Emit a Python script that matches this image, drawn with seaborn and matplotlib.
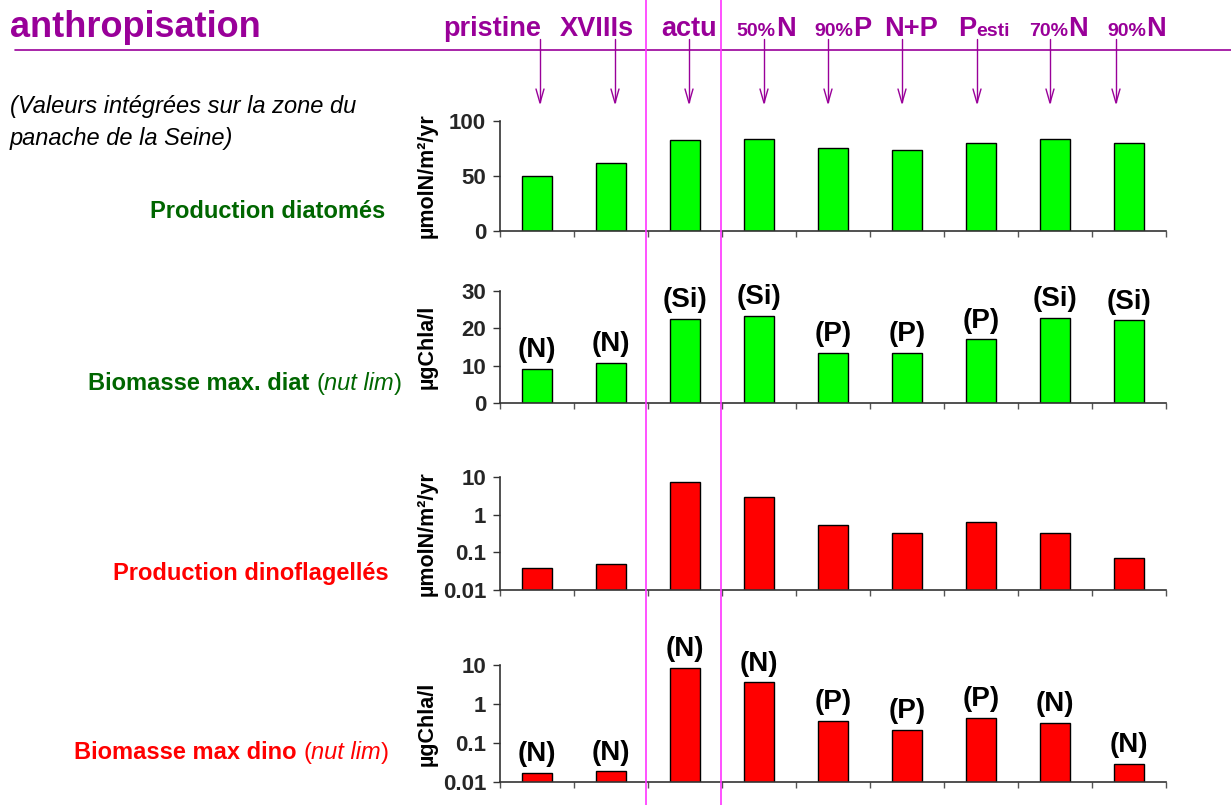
import seaborn as sns
import matplotlib.pyplot as plt
from matplotlib.ticker import FixedLocator, NullLocator, NullFormatter

# data
scenarios = ["pristine", "XVIIIs", "actu", "50%N", "90%P", "N+P", "Pesti", "70%N", "90%N"]
prod_diat = [50, 62, 83, 84, 75, 74, 80, 84, 80]
biom_diat = [9.1, 10.7, 22.5, 23.3, 13.4, 13.4, 17.1, 22.8, 22.2]
lim_diat = ["(N)", "(N)", "(Si)", "(Si)", "(P)", "(P)", "(P)", "(Si)", "(Si)"]
prod_dino = [0.039, 0.05, 7.3, 2.9, 0.53, 0.32, 0.63, 0.32, 0.071]
biom_dino = [0.017, 0.019, 8.4, 3.6, 0.37, 0.22, 0.44, 0.33, 0.029]
lim_dino = ["(N)", "(N)", "(N)", "(N)", "(P)", "(P)", "(P)", "(N)", "(N)"]

# header pieces: (big text, small text, small first?)
header = [("pristine", "", 0), ("XVIIIs", "", 0), ("actu", "", 0),
          ("N", "50%", 1), ("P", "90%", 1), ("N+P", "", 0), ("P", "esti", 0),
          ("N", "70%", 1), ("N", "90%", 1)]
header_x = [492, 597, 689, 766, 843, 911, 984, 1059, 1137]
arrow_x = [540, 615, 689, 764, 828, 902, 977, 1050, 1116]

PURPLE = "#990099"
MAGENTA = "#FF33FF"
DKGREEN = "#006600"
W, H = 1231, 805

sns.set_theme(style="white")
plt.rcParams["font.family"] = ["Liberation Sans", "DejaVu Sans"]

fig = plt.figure(figsize=(W / 100, H / 100), dpi=100)


def fx(px):
    return px / W


def fy(py):
    return 1 - py / H


def panel(top, bottom, vals, color, log=False, labels=None, ylabel=""):
    ax = fig.add_axes([fx(500), fy(bottom), fx(666), (bottom - top) / H])
    sns.barplot(x=scenarios, y=vals, ax=ax, color=color, saturation=1,
                edgecolor="black", linewidth=1.0, width=0.41)
    ax.set_xlim(-0.5, len(scenarios) - 0.5)
    if log:
        ax.set_yscale("log")
        ax.set_ylim(0.01, 10)
        ax.yaxis.set_major_locator(FixedLocator([0.01, 0.1, 1, 10]))
        ax.set_yticklabels(["0.01", "0.1", "1", "10"])
        ax.yaxis.set_minor_locator(NullLocator())
        ax.yaxis.set_minor_formatter(NullFormatter())
    ax.tick_params(axis="y", which="major", direction="out", length=5, width=1,
                   color="#333333", labelsize=16, pad=5, left=True)
    ax.set_xticks([])
    ax.set_xticks([i - 0.5 for i in range(len(scenarios) + 1)], minor=True)
    ax.tick_params(axis="x", which="minor", direction="out", length=4, width=1,
                   color="#555555", bottom=True)
    ax.set_xlabel("")
    ax.set_ylabel(ylabel, fontsize=15.5, fontweight="bold", color="black")
    ax.yaxis.set_label_coords(-0.093, 0.5)
    for s in ["top", "right"]:
        ax.spines[s].set_visible(False)
    for s in ["left", "bottom"]:
        ax.spines[s].set_color("#333333")
        ax.spines[s].set_linewidth(1.2)
    ax.patch.set_alpha(0)
    if labels:
        for i, (v, lab) in enumerate(zip(vals, labels)):
            ax.annotate(lab, (i, v), xytext=(0, 4), textcoords="offset points",
                        ha="center", va="bottom", fontsize=20, fontweight="bold",
                        color="black", annotation_clip=False)
    return ax


ax1 = panel(121, 231, prod_diat, "#00FF00", ylabel="µmolN/m²/yr")
ax1.set_ylim(0, 100)
ax1.set_yticks([0, 50, 100])
ax1.set_yticklabels(["0", "50", "100"])

ax2 = panel(291, 403, biom_diat, "#00FF00", labels=lim_diat, ylabel="µgChla/l")
ax2.set_ylim(0, 30)
ax2.set_yticks([0, 10, 20, 30])
ax2.set_yticklabels(["0", "10", "20", "30"])

ax3 = panel(477, 590, prod_dino, "#FF0000", log=True, ylabel="µmolN/m²/yr")
ax4 = panel(665, 782, biom_dino, "#FF0000", log=True, labels=lim_dino,
            ylabel="µgChla/l")
for ax in (ax1, ax2, ax3, ax4):
    for lab in ax.get_yticklabels():
        lab.set_fontweight("bold")

renderer = fig.canvas.get_renderer()


def chain(pieces, x, y, ha="left"):
    # place text pieces side by side on one baseline
    texts = []
    cur = x
    for s, kw in pieces:
        t = fig.text(cur, y, s, va="baseline", ha="left", **kw)
        bb = t.get_window_extent(renderer)
        cur = fig.transFigure.inverted().transform((bb.x1, bb.y0))[0]
        texts.append(t)
    width = cur - x
    shift = {"left": 0, "center": width / 2, "right": width}[ha]
    for t in texts:
        px, py = t.get_position()
        t.set_position((px - shift, py))
    return texts


# title and header
fig.text(fx(10), fy(37), "anthropisation", fontsize=26, fontweight="bold",
         color=PURPLE, va="baseline")
for (big, small, small_first), x in zip(header, header_x):
    bk = dict(fontsize=19.5, fontweight="bold", color=PURPLE)
    sk = dict(fontsize=14, fontweight="bold", color=PURPLE)
    if not small:
        pieces = [(big, bk)]
    elif small_first:
        pieces = [(small, sk), (big, bk)]
    else:
        pieces = [(big, bk), (small, sk)]
    chain(pieces, fx(x), fy(36), ha="center")

fig.add_artist(plt.Line2D([fx(15), 1], [fy(50), fy(50)], color=PURPLE, lw=1.2))
for x in (646, 721):
    fig.add_artist(plt.Line2D([fx(x), fx(x)], [0, 1], color=MAGENTA, lw=1.2))
for x in arrow_x:
    fig.add_artist(plt.Line2D([fx(x), fx(x)], [fy(39), fy(102)], color=PURPLE, lw=1))
    fig.add_artist(plt.Line2D([fx(x - 4), fx(x), fx(x + 4)],
                              [fy(89), fy(103), fy(89)], color=PURPLE, lw=1))

fig.text(fx(10), fy(113), "(Valeurs intégrées sur la zone du", fontsize=17,
         style="italic", color="black", va="baseline")
fig.text(fx(10), fy(145), "panache de la Seine)", fontsize=17,
         style="italic", color="black", va="baseline")

# panel captions
chain([("Production diatomés", dict(fontsize=17, fontweight="bold", color=DKGREEN))],
      fx(385), fy(218), ha="right")
chain([("Biomasse max. diat ", dict(fontsize=17, fontweight="bold", color=DKGREEN)),
       ("(", dict(fontsize=17, color=DKGREEN)),
       ("nut lim", dict(fontsize=17, style="italic", color=DKGREEN)),
       (")", dict(fontsize=17, color=DKGREEN))],
      fx(402), fy(390), ha="right")
chain([("Production dinoflagellés", dict(fontsize=17, fontweight="bold", color="#FF0000"))],
      fx(389), fy(580), ha="right")
chain([("Biomasse max dino ", dict(fontsize=17, fontweight="bold", color="#FF0000")),
       ("(", dict(fontsize=17, color="#FF0000")),
       ("nut lim", dict(fontsize=17, style="italic", color="#FF0000")),
       (")", dict(fontsize=17, color="#FF0000"))],
      fx(389), fy(759), ha="right")

fig.savefig("out.png", dpi=100)
